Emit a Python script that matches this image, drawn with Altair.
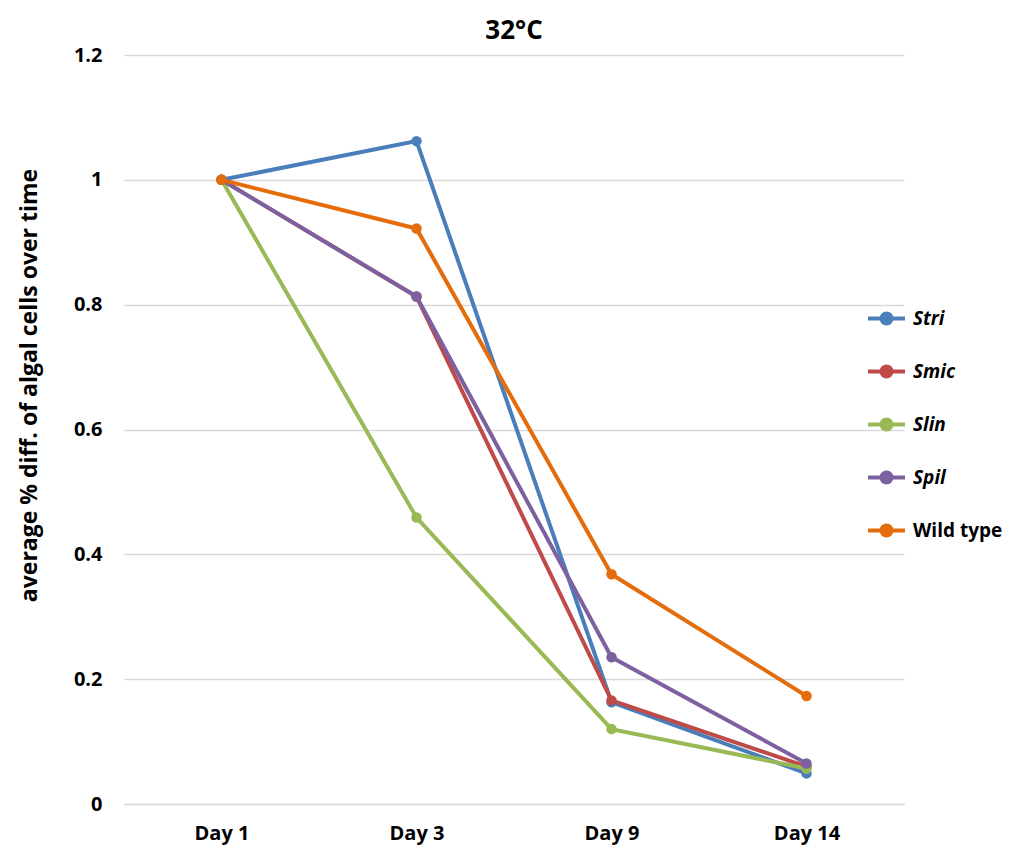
import altair as alt
import pandas as pd

days = ["Day 1", "Day 3", "Day 9", "Day 14"]
series = ["Stri", "Smic", "Slin", "Spil", "Wild type"]
stri = [1.0, 1.062, 0.163, 0.049]
smic = [1.0, 0.813, 0.166, 0.060]
slin = [1.0, 0.459, 0.120, 0.057]
spil = [1.0, 0.813, 0.235, 0.065]
wild = [1.0, 0.922, 0.368, 0.173]
colors = ["#4A7EBB", "#BE4B48", "#98B954", "#7D60A0", "#E46C0A"]

rows = []
for name, vals in zip(series, [stri, smic, slin, spil, wild]):
    for d, v in zip(days, vals):
        rows.append({"day": d, "series": name, "value": v})
df = pd.DataFrame(rows)

FONT = "Open Sans"
sym = "M-1,0H1M0.27,0A0.27,0.27 0 1,1 -0.27,0A0.27,0.27 0 1,1 0.27,0Z"

base = alt.Chart(df).encode(
    x=alt.X("day:N", sort=days, title=None,
            scale=alt.Scale(paddingOuter=0.5),
            axis=alt.Axis(labelAngle=0, ticks=False, domain=True, domainColor="#d9d9d9",
                          domainWidth=1.5, grid=False, labelFont=FONT, labelFontSize=20,
                          labelFontWeight="bold", labelColor="#000000", labelPadding=19)),
    y=alt.Y("value:Q", title="average % diff. of algal cells over time",
            scale=alt.Scale(domain=[0, 1.2]),
            axis=alt.Axis(values=[0, 0.2, 0.4, 0.6, 0.8, 1.0, 1.2], format="~g", ticks=False,
                          domain=False, grid=True, gridColor="#d9d9d9", gridWidth=1.5,
                          labelFont=FONT, labelFontSize=20, labelFontWeight="bold",
                          labelColor="#000000", labelPadding=22,
                          titleFont=FONT, titleFontSize=23, titleFontWeight="bold",
                          titleColor="#000000", titlePadding=32, titleY=330)),
    color=alt.Color("series:N", sort=series,
                    scale=alt.Scale(domain=series, range=colors),
                    legend=alt.Legend(title=None, orient="none", legendX=742, legendY=243,
                                      symbolType=sym, symbolSize=1369, symbolStrokeWidth=4,
                                      rowPadding=19, labelOffset=6,
                                      labelFont=FONT, labelFontSize=19, labelFontWeight="bold",
                                      labelColor="#000000",
                                      labelFontStyle=alt.ExprRef("datum.label == 'Wild type' ? 'normal' : 'italic'"))),
)

lines = base.mark_line(strokeWidth=4, point=alt.OverlayMarkDef(filled=True, size=110))

chart = lines.properties(
    width=780, height=749,
    title=alt.Title("32°C", font=FONT, fontSize=26, fontWeight="bold", color="#000000", offset=1),
    autosize=alt.AutoSizeParams(type="none"),
    padding={"left": 116, "top": 47, "right": 104, "bottom": 44},
).configure_view(stroke=None)

chart.save("out.html", embed_options={"renderer": "svg", "actions": False})
